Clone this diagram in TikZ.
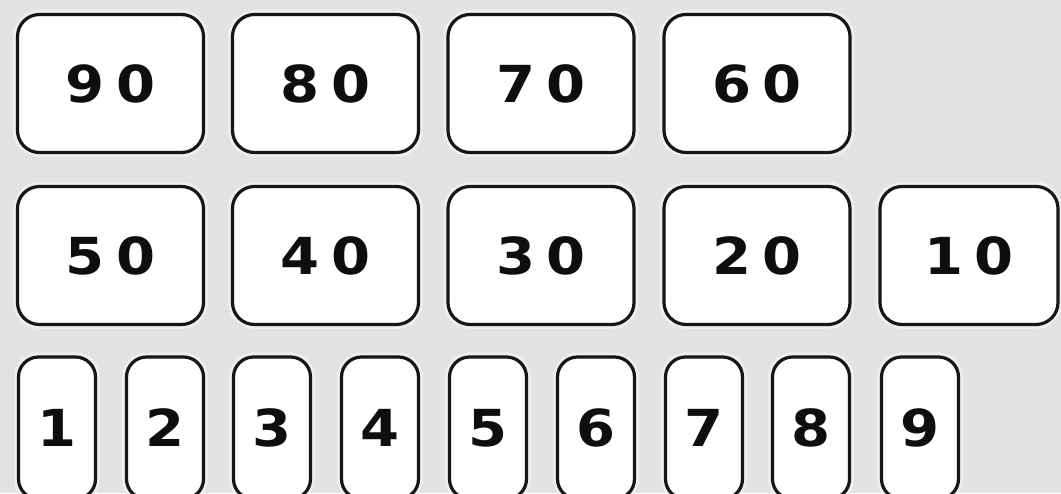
\documentclass[tikz,border=0pt]{standalone}
\usepackage{fontspec}
\setmainfont{DejaVu Sans}
\definecolor{bg}{HTML}{E2E2E2}
\definecolor{halo}{HTML}{EEEEEE}
\definecolor{edge}{HTML}{161616}
\definecolor{ink}{HTML}{0E0E0E}
\tikzset{
  keybox/.style={draw=edge, line width=3.2pt, fill=white, rounded corners=22pt,
    inner sep=0pt, text=ink, font=\bfseries\fontsize{51}{51}\selectfont,
    preaction={draw=halo, line width=9pt}},
  bigkey/.style={keybox, minimum width=186pt, minimum height=138pt},
  smallkey/.style={keybox, minimum width=77pt, minimum height=142pt, rounded corners=20pt}
}
\newcommand{\onedig}[1]{\scalebox{1.1}[1]{#1}}
\newcommand{\twodig}[2]{\scalebox{1.1}[1]{#1\kern10pt#2}}
\begin{document}
\begin{tikzpicture}[x=1pt,y=1pt]
\useasboundingbox (0,0) rectangle (1061,493);
\fill[bg] (0,0) rectangle (1061,493);
\begin{scope}
\clip (0,0) rectangle (1061,493);
% row 1
\node[bigkey] (k90) at (110.5,409.5) {\twodig90};
\node[bigkey] (k80) at (325.5,409.5) {\twodig80};
\node[bigkey] (k70) at (541,409.5) {\twodig70};
\node[bigkey] (k60) at (757,409.5) {\twodig60};
% row 2
\node[bigkey] (k50) at (110.5,237.5) {\twodig50};
\node[bigkey] (k40) at (325.5,237.5) {\twodig40};
\node[bigkey] (k30) at (541,237.5) {\twodig30};
\node[bigkey] (k20) at (757,237.5) {\twodig20};
\node[bigkey, minimum width=178pt] (k10) at (969,237.5) {\twodig10};
% row 3
\node[smallkey] (k1) at (57,65) {\onedig1};
\node[smallkey] (k2) at (165,65) {\onedig2};
\node[smallkey] (k3) at (272,65) {\onedig3};
\node[smallkey] (k4) at (380,65) {\onedig4};
\node[smallkey] (k5) at (488,65) {\onedig5};
\node[smallkey] (k6) at (596,65) {\onedig6};
\node[smallkey] (k7) at (704,65) {\onedig7};
\node[smallkey] (k8) at (811,65) {\onedig8};
\node[smallkey] (k9) at (920,65) {\onedig9};
\end{scope}
\end{tikzpicture}
\end{document}
